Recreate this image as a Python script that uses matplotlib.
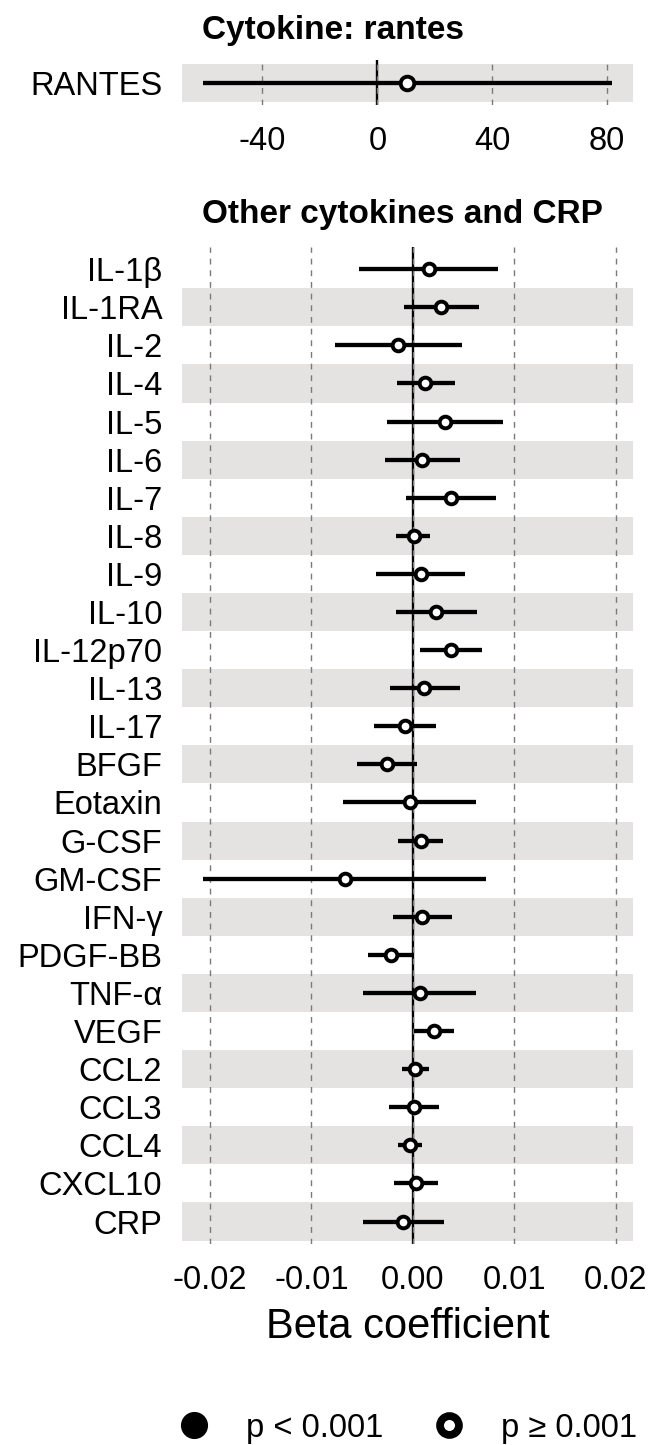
import numpy as np
import matplotlib.pyplot as plt
from matplotlib.lines import Line2D

plt.rcParams['font.family'] = ['Liberation Sans', 'DejaVu Sans']

# --- data ---
rantes_labels = ['RANTES']
rantes_beta = [10.4]
rantes_low = [-60.6]
rantes_high = [81.7]
rantes_sig = [False]
rantes_ticks = [-40, 0, 40, 80]

cytokines = ['IL-1β', 'IL-1RA', 'IL-2', 'IL-4', 'IL-5', 'IL-6', 'IL-7', 'IL-8',
             'IL-9', 'IL-10', 'IL-12p70', 'IL-13', 'IL-17', 'BFGF', 'Eotaxin',
             'G-CSF', 'GM-CSF', 'IFN-γ', 'PDGF-BB', 'TNF-α', 'VEGF', 'CCL2',
             'CCL3', 'CCL4', 'CXCL10', 'CRP']
beta = [0.00155, 0.0028, -0.00142, 0.00125, 0.00313, 0.00095, 0.00379, 0.00007,
        0.00079, 0.0023, 0.00372, 0.00115, -0.00082, -0.00253, -0.00026,
        0.00076, -0.00668, 0.00092, -0.00214, 0.00066, 0.00211, 0.00023,
        0.00013, -0.0003, 0.0003, -0.00092]
ci_low = [-0.0053, -0.00086, -0.00767, -0.00158, -0.00257, -0.0027, -0.00063, -0.00161,
          -0.00359, -0.00161, 0.00066, -0.00227, -0.00382, -0.00546, -0.00685,
          -0.00151, -0.02067, -0.00198, -0.00438, -0.00487, 0.00013, -0.00109,
          -0.00237, -0.00145, -0.00181, -0.00487]
ci_high = [0.0084, 0.0065, 0.00487, 0.00415, 0.00885, 0.00461, 0.0082, 0.00174,
           0.00517, 0.00629, 0.00678, 0.00461, 0.00224, 0.0004, 0.00625,
           0.00296, 0.00724, 0.00382, 0.00007, 0.00625, 0.00405, 0.00155,
           0.00263, 0.00089, 0.00244, 0.00303]
cyto_sig = [False] * len(cytokines)
beta_ticks = [-0.02, -0.01, 0.0, 0.01, 0.02]

# --- style ---
W, H = 651, 1445
STRIPE = '#e5e2e2'
GRID = '#7a7a7a'
TICK_SIZE = 23.5
EXPAND = 0.09  # extra room above/below the outer rows


def px_axes(fig, left, top, right, bottom):
    # axes placed by pixel box of the panel
    return fig.add_axes([left / W, 1 - bottom / H, (right - left) / W, (bottom - top) / H])


def forest(ax, labels, est, lo, hi, sig, ticks, fmt, xlim, ms):
    n = len(labels)
    y = np.arange(n)
    for i in y:
        if (n - 1 - i) % 2 == 0:
            ax.axhspan(i - 0.5, i + 0.5, color=STRIPE, lw=0, zorder=0)
    ax.set_axisbelow(False)
    ax.grid(axis='x', color=GRID, lw=1.0, ls=(0, (4.2, 4.2)), zorder=1)
    ax.grid(axis='y', visible=False)
    ax.axvline(0, color='black', lw=1.7, zorder=2)
    ax.hlines(y, lo, hi, color='black', lw=3.1, zorder=3, capstyle='butt')
    face = ['black' if s else 'white' for s in sig]
    for yi, xi, fc in zip(y, est, face):
        ax.plot(xi, yi, ls='none', marker='o', ms=ms, mfc=fc, mec='black',
                mew=2.8, zorder=4)
    ax.set_yticks(y, labels)
    ax.set_xticks(ticks, [fmt(t) for t in ticks])
    ax.set_xlim(*xlim)
    ax.set_ylim(n - 0.5 + EXPAND, -0.5 - EXPAND)
    ax.tick_params(length=0, labelsize=TICK_SIZE)
    ax.tick_params(axis='x', pad=15)
    ax.tick_params(axis='y', pad=14.4)
    for s in ax.spines.values():
        s.set_visible(False)


fig = plt.figure(figsize=(W / 100, H / 100), dpi=100)

ax_top = px_axes(fig, 182.3, 60.3, 633.3, 105.3)
forest(ax_top, rantes_labels, rantes_beta, rantes_low, rantes_high, rantes_sig,
       rantes_ticks, lambda t: f'{t:g}', (-67.9, 89.1), 9.8)

ax_bot = px_axes(fig, 182.3, 246.7, 633.3, 1244)
forest(ax_bot, cytokines, beta, ci_low, ci_high, cyto_sig,
       beta_ticks, lambda t: f'{t:.2f}', (-0.02274, 0.02175), 8.4)
ax_bot.set_xlabel('Beta coefficient', fontsize=30, labelpad=8)

fig.text(201.7 / W, 1 - 39.3 / H, 'Cytokine: rantes', fontsize=24,
         fontweight='bold', ha='left', va='baseline')
fig.text(201.7 / W, 1 - 223.3 / H, 'Other cytokines and CRP', fontsize=24,
         fontweight='bold', ha='left', va='baseline')

handles = [
    Line2D([], [], ls='none', marker='o', ms=18.5, mfc='black', mec='black', mew=1),
    Line2D([], [], ls='none', marker='o', ms=13.6, mfc='white', mec='black', mew=5.6),
]
fig.legend(handles, ['p < 0.001', 'p ≥ 0.001'], loc='center',
           bbox_to_anchor=(407.5 / W, 1 - 1428 / H), ncol=2, frameon=False,
           fontsize=23.5, handlelength=1.0, handletextpad=1.1,
           columnspacing=1.49, borderpad=0, borderaxespad=0)

fig.savefig('out.png', dpi=100)
